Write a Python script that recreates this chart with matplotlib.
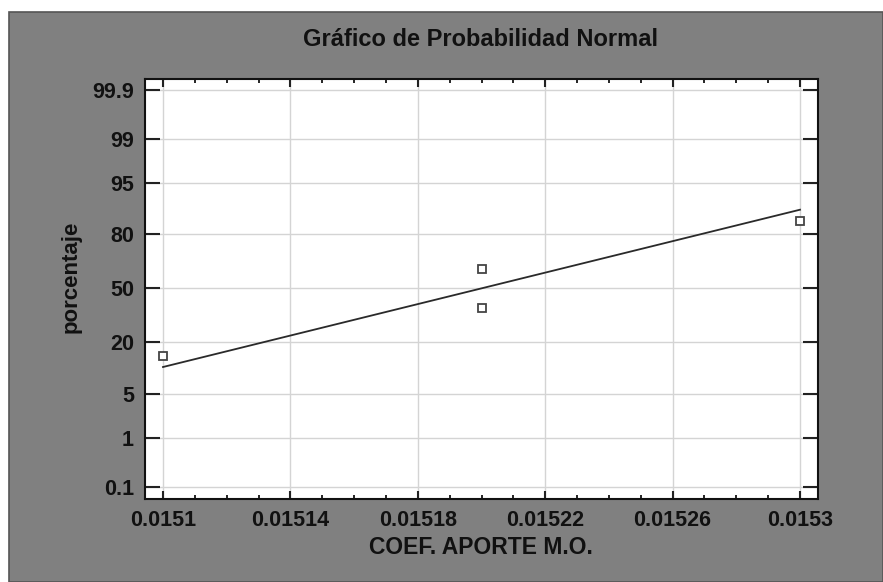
import matplotlib
matplotlib.use("Agg")
import matplotlib.pyplot as plt
from matplotlib.patches import Rectangle
from matplotlib.ticker import FixedLocator, MultipleLocator
from statistics import NormalDist
import numpy as np

# data
coef = [0.0151, 0.0152, 0.0152, 0.0153]
pct = [14.7, 38.2, 61.8, 85.3]
y_ticks = [0.1, 1, 5, 20, 50, 80, 95, 99, 99.9]
x_ticks = [0.0151, 0.01514, 0.01518, 0.01522, 0.01526, 0.0153]

nd = NormalDist()
def q(p):
    return nd.inv_cdf(p / 100.0)

plt.rcParams['font.family'] = ['Liberation Sans', 'DejaVu Sans']

fig = plt.figure(figsize=(8.83, 5.82), dpi=100)
fig.patch.set_facecolor('white')
W, H = 883, 582
bg = Rectangle((9 / W, 0), 1 - 9 / W, (H - 12) / H, transform=fig.transFigure,
               facecolor='#808080', edgecolor='#555555', linewidth=1.2, zorder=-10)
fig.add_artist(bg)

ax = fig.add_axes([145 / W, 1 - 499 / H, (818 - 145) / W, (499 - 79) / H])
ax.set_zorder(1)
ax.set_facecolor('white')

# fitted normal line from the data
m = np.mean(coef)
s = np.std(coef, ddof=1)
xl = np.array([min(coef), max(coef)])
ax.plot(xl, (xl - m) / s, color='#2a2a2a', linewidth=1.3, zorder=3)

ax.plot(coef, [q(p) for p in pct], linestyle='none', marker='s', markersize=6,
        markerfacecolor='white', markeredgecolor='#444444', markeredgewidth=1.3, zorder=4)

ax.set_xlim(0.0151 - 5.65e-6, 0.0153 + 5.65e-6)
ax.set_ylim(-3.28, 3.26)

ax.yaxis.set_major_locator(FixedLocator([q(p) for p in y_ticks]))
ax.set_yticklabels([str(p) for p in y_ticks])
ax.xaxis.set_major_locator(FixedLocator(x_ticks))
ax.set_xticklabels([f"{v:g}" for v in x_ticks])
ax.xaxis.set_minor_locator(MultipleLocator(0.00001))

ax.grid(True, which='major', color='#d4d4d4', linewidth=1.0, zorder=0)
ax.tick_params(axis='both', which='major', direction='in', top=True, right=True,
               labelsize=15.5, width=1.5, color='#222222', pad=8)
ax.tick_params(axis='y', which='major', length=11)
ax.tick_params(axis='x', which='major', length=6)
ax.tick_params(axis='x', which='minor', direction='in', top=True, length=3, width=1.2)
for lab in ax.get_xticklabels() + ax.get_yticklabels():
    lab.set_fontweight('bold')
    lab.set_color('#111111')
for sp in ax.spines.values():
    sp.set_color('#111111')
    sp.set_linewidth(1.5)

fig.text(481 / W, 1 - 547 / H, "COEF. APORTE M.O.", ha='center', va='center',
         fontsize=16.5, fontweight='bold', color='#111111')
fig.text(71 / W, 1 - 277 / H, "porcentaje", ha='center', va='center', rotation=90,
         fontsize=16, fontweight='bold', color='#111111')
fig.text(481 / W, 1 - 40 / H, "Gráfico de Probabilidad Normal", ha='center', va='center',
         fontsize=17, fontweight='bold', color='#111111')

fig.savefig("out.png", dpi=100, facecolor=fig.get_facecolor())
